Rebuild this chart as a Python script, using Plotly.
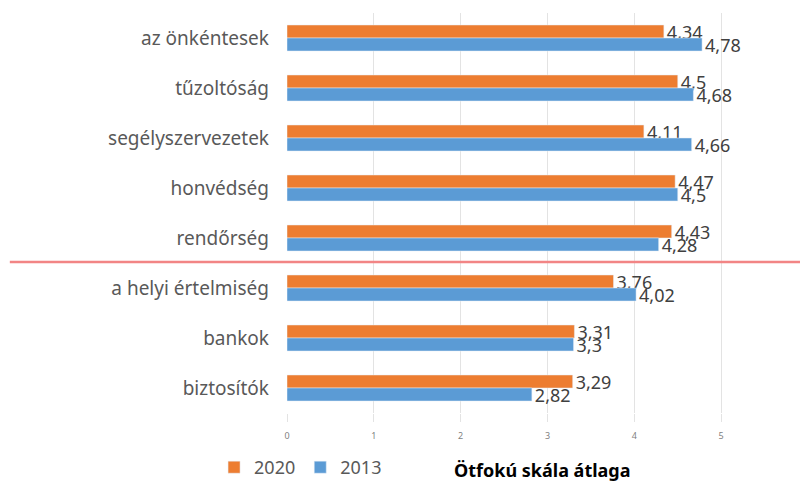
import plotly.graph_objects as go

# adatok (felülről lefelé)
kategoriak = ["az önkéntesek", "tűzoltóság", "segélyszervezetek", "honvédség",
              "rendőrség", "a helyi értelmiség", "bankok", "biztosítók"]
ertek_2020 = [4.34, 4.5, 4.11, 4.47, 4.43, 3.76, 3.31, 3.29]
ertek_2013 = [4.78, 4.68, 4.66, 4.5, 4.28, 4.02, 3.3, 2.82]
x_tickek = [0, 1, 2, 3, 4, 5, 6]

NARANCS = "#ED7D31"
KEK = "#5B9BD5"
SZOVEG = "#595959"
BETU = "Noto Sans"

fig = go.Figure()

for nev, ertekek, szin in [("2020", ertek_2020, NARANCS), ("2013", ertek_2013, KEK)]:
    fig.add_trace(go.Bar(
        name=nev, y=kategoriak, x=ertekek, orientation="h",
        marker_color=szin, text=[str(v).replace(".", ",") for v in ertekek],
        textposition="outside", cliponaxis=False, constraintext="none",
        textfont=dict(family=BETU, size=18, color="#404040"),
    ))

# piros elválasztó vonal a rendőrség és a helyi értelmiség között
fig.add_shape(type="line", xref="paper", yref="y", x0=-0.532, x1=0.985,
              y0=4.48, y1=4.48, line=dict(color="#F28585", width=2.5))

# tengelycím
fig.add_annotation(text="<b>Ötfokú skála átlaga</b>", xref="paper", yref="paper",
                   x=0.491, y=-0.1425, showarrow=False, yanchor="middle",
                   font=dict(size=18, color="#000000", family=BETU))

# az oldal body margója 8px, ezért mindent 8px-el balra/fel tolunk
fig.update_layout(
    width=808, height=485,
    margin=dict(l=279, r=8, t=5, b=80, autoexpand=False),
    barmode="group", bargap=0.48, bargroupgap=0,
    plot_bgcolor="white", paper_bgcolor="white",
    font=dict(family=BETU, color=SZOVEG),
    showlegend=True,
    legend=dict(orientation="h", x=-0.14, y=-0.09, xanchor="left", yanchor="top",
                font=dict(size=18, color=SZOVEG), traceorder="normal",
                itemwidth=30),
)

fig.update_xaxes(
    range=[0, 6], tickvals=x_tickek, showgrid=True, gridcolor="#E3E3E3",
    gridwidth=1, zeroline=False, ticks="outside", ticklen=8, tickcolor="#E3E3E3",
    ticklabelstandoff=6,
    tickfont=dict(size=9, color="#7F7F7F"), showline=False, automargin=False,
)
fig.update_yaxes(
    categoryorder="array", categoryarray=kategoriak, autorange="reversed",
    showgrid=False, ticks="", ticklabelstandoff=17, automargin=False,
    tickfont=dict(size=19, color=SZOVEG), showline=False,
)

fig.write_html("out.html")
